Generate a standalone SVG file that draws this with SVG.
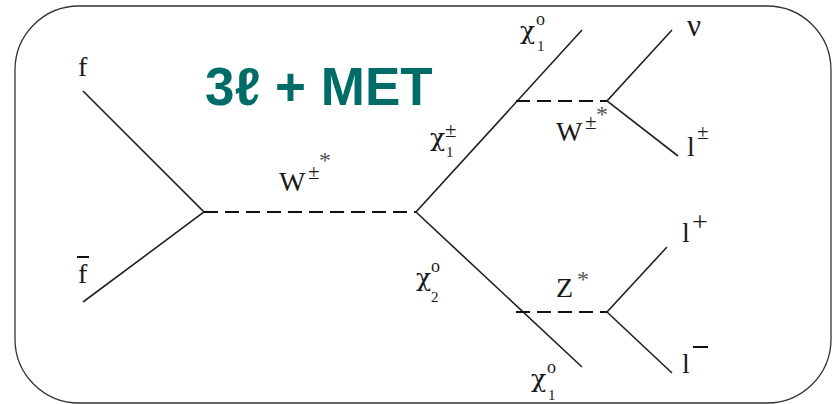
<svg xmlns="http://www.w3.org/2000/svg" width="833" height="404" viewBox="0 0 833 404">
<style>
.l{stroke:#222;stroke-width:1.6;fill:none}
.d{stroke:#111;stroke-width:2;fill:none;stroke-dasharray:14 7}
.t{font-family:"Liberation Serif",serif;fill:#1a1a1a}
.m{font-size:28px}.c{font-family:"DejaVu Serif",serif;font-size:25px}.s{font-size:15px}.o{font-size:18px}.p{font-size:21px}
.a{font-size:24px;fill:#555}
</style>
<rect width="833" height="404" fill="#fff"/>
<rect id="frame" x="15" y="6" width="816" height="397" rx="64" ry="64" fill="none" stroke="#333" stroke-width="1.3"/>
<g id="connectors">
<path class="l" d="M83 91L204 212L83 302"/>
<path class="d" d="M204 212H416"/>
<path class="l" d="M582 30L416 212L582 367"/>
<path class="d" d="M516 101H607"/>
<path class="l" d="M672 30L607 101L678 156"/>
<path class="d" d="M516 312H607"/>
<path class="l" d="M667 247L607 312L672 373"/>
</g>
<g id="title"><text x="205" y="105" font-family="'Liberation Sans',sans-serif" font-weight="700" font-size="53" fill="#006c67">3ℓ + MET</text></g>
<g id="f"><text class="t m" x="78" y="76">f</text></g>
<g id="fbar"><text class="t m" x="78" y="283">f</text><path d="M77 257H89" stroke="#111" stroke-width="2"/></g>
<g id="w1"><text class="t m" x="279" y="191">W</text><text class="t p" x="308" y="179">±</text><text class="t a" x="319" y="168">*</text></g>
<g id="chi1pm"><text class="t c" x="430" y="146">χ</text><text class="t p" x="445" y="137">±</text><text class="t s" x="446" y="157">1</text></g>
<g id="chi1o"><text class="t c" x="520" y="39">χ</text><text class="t o" x="536" y="25">o</text><text class="t s" x="537" y="51">1</text></g>
<g id="w2"><text class="t m" x="556" y="141">W</text><text class="t p" x="585" y="129">±</text><text class="t a" x="596" y="122">*</text></g>
<g id="nu"><text class="t" style="font-size:31px" x="687" y="36">ν</text></g>
<g id="lpm"><text class="t m" x="687" y="156">l</text><text class="t p" x="697" y="139">±</text></g>
<g id="chi2o"><text class="t c" x="416" y="286">χ</text><text class="t o" x="431" y="272">o</text><text class="t s" x="431" y="302">2</text></g>
<g id="z"><text class="t m" x="556" y="297">Z</text><text class="t a" x="577" y="287">*</text></g>
<g id="lp"><text class="t m" x="682" y="242">l</text><text class="t" style="font-size:28px" x="692" y="231">+</text></g>
<g id="lm"><text class="t m" x="682" y="373">l</text><path d="M693 347H708" stroke="#111" stroke-width="2"/></g>
<g id="chi1o2"><text class="t c" x="531" y="387">χ</text><text class="t o" x="547" y="373">o</text><text class="t s" x="548" y="400">1</text></g>
</svg>
